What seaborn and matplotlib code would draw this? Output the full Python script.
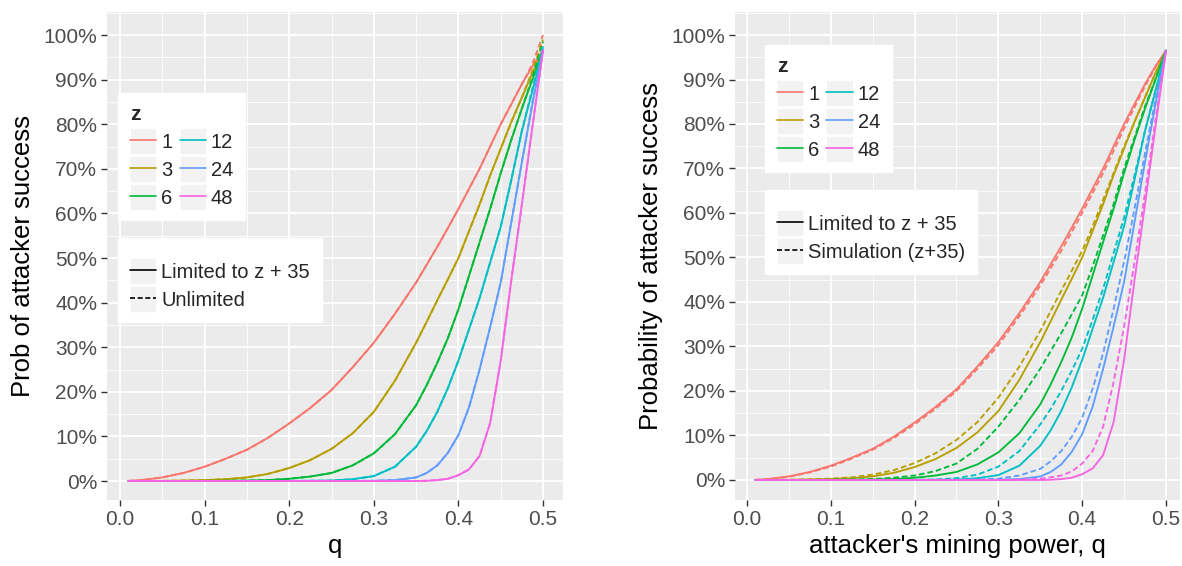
import numpy as np
import pandas as pd
import seaborn as sns
import matplotlib
matplotlib.use("Agg")
import matplotlib.pyplot as plt
from matplotlib.lines import Line2D
from matplotlib.patches import Rectangle
from matplotlib.legend_handler import HandlerLine2D
from matplotlib.ticker import PercentFormatter, MultipleLocator, FormatStrFormatter

# attacker mining power
q = [0.01, 0.025, 0.05, 0.075, 0.1, 0.125, 0.15, 0.175, 0.2, 0.225, 0.25, 0.275,
     0.3, 0.325, 0.35, 0.3625, 0.375, 0.3875, 0.4, 0.4125, 0.425, 0.4375, 0.45,
     0.4625, 0.475, 0.4875, 0.5]

z_levels = ["1", "3", "6", "12", "24", "48"]

# "Limited to z + 35" (same curves on both panels)
limited = {
    "1":  [0.0003, 0.002, 0.008, 0.018, 0.032, 0.05, 0.07, 0.097, 0.129, 0.164, 0.204, 0.255,
           0.31, 0.375, 0.445, 0.485, 0.525, 0.567, 0.61, 0.655, 0.70, 0.75, 0.80,
           0.845, 0.89, 0.93, 0.965],
    "3":  [0, 0, 0.0003, 0.001, 0.002, 0.004, 0.008, 0.016, 0.029, 0.047, 0.072, 0.107,
           0.155, 0.225, 0.31, 0.357, 0.405, 0.452, 0.50, 0.56, 0.62, 0.685, 0.745,
           0.805, 0.86, 0.915, 0.965],
    "6":  [0, 0, 0, 0, 0.0002, 0.0005, 0.001, 0.002, 0.005, 0.01, 0.018, 0.035,
           0.062, 0.105, 0.17, 0.215, 0.265, 0.32, 0.385, 0.46, 0.535, 0.61, 0.69,
           0.765, 0.835, 0.90, 0.965],
    "12": [0, 0, 0, 0, 0, 0, 0, 0, 0.0002, 0.0005, 0.001, 0.004,
           0.011, 0.032, 0.077, 0.112, 0.155, 0.208, 0.27, 0.34, 0.41, 0.49, 0.57,
           0.675, 0.785, 0.875, 0.965],
    "24": [0, 0, 0, 0, 0, 0, 0, 0, 0, 0, 0, 0,
           0.0005, 0.002, 0.008, 0.018, 0.035, 0.063, 0.103, 0.165, 0.25, 0.345, 0.445,
           0.58, 0.715, 0.845, 0.965],
    "48": [0, 0, 0, 0, 0, 0, 0, 0, 0, 0, 0, 0,
           0, 0, 0, 0.0005, 0.002, 0.005, 0.013, 0.026, 0.056, 0.13, 0.27,
           0.45, 0.62, 0.795, 0.965],
}

# "Unlimited" (left panel, dashed)
unlimited = {
    "1":  [0.0003, 0.002, 0.008, 0.018, 0.032, 0.05, 0.07, 0.097, 0.129, 0.164, 0.204, 0.255,
           0.31, 0.375, 0.445, 0.485, 0.525, 0.567, 0.61, 0.655, 0.70, 0.75, 0.80,
           0.845, 0.89, 0.935, 1.0],
    "3":  [0, 0, 0.0003, 0.001, 0.002, 0.004, 0.008, 0.016, 0.029, 0.047, 0.072, 0.107,
           0.155, 0.225, 0.31, 0.357, 0.405, 0.452, 0.50, 0.56, 0.62, 0.685, 0.745,
           0.805, 0.86, 0.92, 0.99],
    "6":  [0, 0, 0, 0, 0.0002, 0.0005, 0.001, 0.002, 0.005, 0.01, 0.018, 0.035,
           0.062, 0.105, 0.17, 0.215, 0.265, 0.32, 0.385, 0.46, 0.535, 0.61, 0.69,
           0.765, 0.835, 0.905, 0.985],
    "12": [0, 0, 0, 0, 0, 0, 0, 0, 0.0002, 0.0005, 0.001, 0.004,
           0.011, 0.032, 0.077, 0.112, 0.155, 0.208, 0.27, 0.34, 0.41, 0.49, 0.57,
           0.675, 0.785, 0.88, 0.975],
    "24": [0, 0, 0, 0, 0, 0, 0, 0, 0, 0, 0, 0,
           0.0005, 0.002, 0.008, 0.018, 0.035, 0.063, 0.103, 0.165, 0.25, 0.345, 0.445,
           0.58, 0.715, 0.85, 0.97],
    "48": [0, 0, 0, 0, 0, 0, 0, 0, 0, 0, 0, 0,
           0, 0, 0, 0.0005, 0.002, 0.005, 0.013, 0.026, 0.056, 0.13, 0.27,
           0.45, 0.62, 0.795, 0.965],
}

# "Simulation (z+35)" (right panel, dashed)
simulation = {
    "1":  [0.0003, 0.002, 0.007, 0.017, 0.03, 0.048, 0.068, 0.094, 0.125, 0.16, 0.2, 0.25,
           0.303, 0.368, 0.437, 0.476, 0.515, 0.557, 0.60, 0.645, 0.69, 0.74, 0.79,
           0.838, 0.885, 0.928, 0.965],
    "3":  [0, 0, 0.0004, 0.0015, 0.003, 0.006, 0.012, 0.022, 0.038, 0.06, 0.09, 0.13,
           0.185, 0.255, 0.335, 0.38, 0.425, 0.47, 0.515, 0.57, 0.63, 0.69, 0.75,
           0.805, 0.86, 0.915, 0.965],
    "6":  [0, 0, 0, 0, 0.0005, 0.001, 0.002, 0.005, 0.01, 0.02, 0.037, 0.07,
           0.12, 0.18, 0.25, 0.29, 0.33, 0.372, 0.415, 0.48, 0.55, 0.62, 0.70,
           0.77, 0.84, 0.90, 0.965],
    "12": [0, 0, 0, 0, 0, 0, 0, 0, 0.0005, 0.001, 0.004, 0.012,
           0.03, 0.065, 0.125, 0.16, 0.20, 0.245, 0.295, 0.36, 0.43, 0.51, 0.59,
           0.685, 0.785, 0.875, 0.965],
    "24": [0, 0, 0, 0, 0, 0, 0, 0, 0, 0, 0, 0.001,
           0.003, 0.01, 0.025, 0.042, 0.065, 0.097, 0.14, 0.205, 0.285, 0.385, 0.49,
           0.61, 0.735, 0.855, 0.965],
    "48": [0, 0, 0, 0, 0, 0, 0, 0, 0, 0, 0, 0,
           0, 0.001, 0.003, 0.006, 0.01, 0.019, 0.037, 0.065, 0.12, 0.22, 0.345,
           0.49, 0.645, 0.81, 0.965],
}

colors = ["#F8766D", "#B79F00", "#00BA38", "#00BFC4", "#619CFF", "#F564E3"]


def long_frame(series, kind):
    rows = []
    for z in z_levels:
        for qq, pp in zip(q, series[z]):
            rows.append((qq, pp, z, kind))
    return pd.DataFrame(rows, columns=["q", "p", "z", "kind"])


class KeyHandler(HandlerLine2D):
    # ggplot-like grey key background behind each legend line
    def __init__(self, gap, **kw):
        super().__init__(**kw)
        self.gap = gap

    def create_artists(self, legend, orig_handle, xdescent, ydescent, width, height,
                       fontsize, trans):
        g = self.gap * fontsize / 2
        rect = Rectangle((-xdescent, -ydescent - g), width, height + 2 * g,
                         facecolor="#F2F2F2", edgecolor="white", linewidth=0.6,
                         transform=trans)
        arts = super().create_artists(legend, orig_handle, xdescent, ydescent, width,
                                      height, fontsize, trans)
        return [rect] + list(arts)


sns.set_theme(style="darkgrid")
plt.rcParams["font.family"] = ["Liberation Sans", "DejaVu Sans"]

fig = plt.figure(figsize=(11.82, 5.66), dpi=100)
ax1 = fig.add_axes([0.0905, 0.1166, 0.3858, 0.8622])
ax2 = fig.add_axes([0.6218, 0.1166, 0.3765, 0.8622])

dash = (3, 1.6)
left_df = pd.concat([long_frame(limited, "Limited to z + 35"), long_frame(unlimited, "Unlimited")])
right_df = pd.concat([long_frame(limited, "Limited to z + 35"), long_frame(simulation, "Simulation (z+35)")])

sns.lineplot(data=left_df, x="q", y="p", hue="z", style="kind", hue_order=z_levels,
             style_order=["Limited to z + 35", "Unlimited"], palette=colors,
             dashes={"Limited to z + 35": "", "Unlimited": dash},
             estimator=None, sort=False, linewidth=1.35, legend=False, ax=ax1)
sns.lineplot(data=right_df, x="q", y="p", hue="z", style="kind", hue_order=z_levels,
             style_order=["Limited to z + 35", "Simulation (z+35)"], palette=colors,
             dashes={"Limited to z + 35": "", "Simulation (z+35)": dash},
             estimator=None, sort=False, linewidth=1.35, legend=False, ax=ax2)

for ax, xlim, ylim in [(ax1, (-0.0154, 0.5236), (-0.0426, 1.0516)),
                       (ax2, (-0.0143, 0.5167), (-0.045, 1.0517))]:
    ax.set_facecolor("#EBEBEB")
    ax.set_xlim(*xlim)
    ax.set_ylim(*ylim)
    ax.xaxis.set_major_locator(MultipleLocator(0.1))
    ax.xaxis.set_minor_locator(MultipleLocator(0.05))
    ax.yaxis.set_major_locator(MultipleLocator(0.1))
    ax.yaxis.set_minor_locator(MultipleLocator(0.05))
    ax.yaxis.set_major_formatter(PercentFormatter(1.0, decimals=0))
    ax.xaxis.set_major_formatter(FormatStrFormatter("%.1f"))
    ax.grid(which="major", color="white", linewidth=1.3)
    ax.grid(which="minor", color="white", linewidth=0.6)
    ax.set_axisbelow(True)
    for s in ax.spines.values():
        s.set_visible(False)
    ax.tick_params(which="major", length=4, width=1, color="#333333", labelsize=15,
                   labelcolor="#4D4D4D", pad=3, bottom=True, left=True)
    ax.tick_params(which="minor", length=0)

ax1.set_xlabel("q", fontsize=18.5, color="black", labelpad=4)
ax1.set_ylabel("Prob of attacker success", fontsize=18.5, color="black", labelpad=6)
ax2.set_xlabel("attacker's mining power, q", fontsize=18.5, color="black", labelpad=4)
ax2.set_ylabel("Probability of attacker success", fontsize=18.5, color="black", labelpad=6)

z_handles = [Line2D([], [], color=c, linewidth=1.2) for c in colors]
kind_handles = [Line2D([], [], color="black", linewidth=1.2),
                Line2D([], [], color="black", linewidth=1.2, dashes=dash)]
spacing = 0.4


def add_legends(ax, z_anchor, kind_anchor, kind_labels):
    hm = {h: KeyHandler(spacing) for h in z_handles + kind_handles}
    leg1 = ax.legend(z_handles, z_levels, title="z", ncol=2, loc="upper left",
                     bbox_to_anchor=z_anchor, borderaxespad=0, fontsize=14.5,
                     title_fontproperties={"weight": "bold", "size": 15}, alignment="left",
                     frameon=True, facecolor="white", edgecolor="white", framealpha=1,
                     fancybox=False, handlelength=1.3, handleheight=1.0, handletextpad=0.25,
                     columnspacing=0.35, labelspacing=spacing, borderpad=0.6,
                     handler_map=hm)
    ax.add_artist(leg1)
    # blank tiny title only adds the top padding seen in the reference
    ax.legend(kind_handles, kind_labels, title=" ", title_fontsize=3, alignment="left",
              loc="upper left", bbox_to_anchor=kind_anchor,
              borderaxespad=0, fontsize=14.5, frameon=True, facecolor="white",
              edgecolor="white", framealpha=1, fancybox=False, handlelength=1.3,
              handleheight=1.0, handletextpad=0.25, labelspacing=spacing, borderpad=0.6,
              handler_map=hm)


add_legends(ax1, (0.024, 0.834), (0.024, 0.537), ["Limited to z + 35", "Unlimited"])
add_legends(ax2, (0.067, 0.932), (0.067, 0.635), ["Limited to z + 35", "Simulation (z+35)"])

fig.savefig("out.png", dpi=100, facecolor="white")
